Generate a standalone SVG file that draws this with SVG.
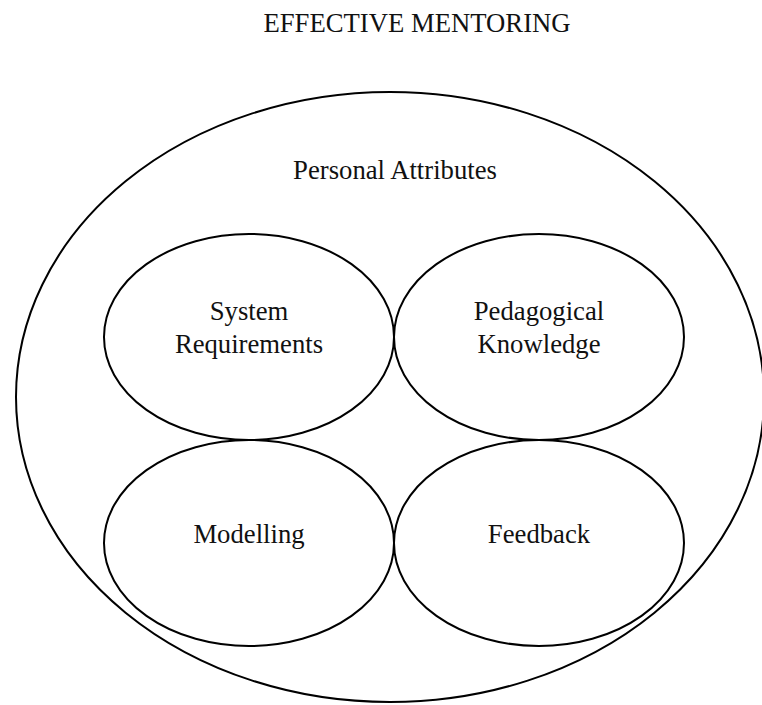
<svg xmlns="http://www.w3.org/2000/svg" width="762" height="705" viewBox="0 0 762 705">
  <style>
    .shape { fill: none; stroke: #000; stroke-width: 2; }
    .label { font-family: "Liberation Serif", "Times New Roman", serif; font-size: 26.7px; fill: #111; text-anchor: middle; }
  </style>
  <rect width="762" height="705" fill="#fff"/>
  <text class="label" x="417" y="32">EFFECTIVE MENTORING</text>

  <g id="personal-attributes">
    <ellipse class="shape" cx="390" cy="397" rx="374" ry="305"/>
    <text class="label" x="395" y="179">Personal Attributes</text>
  </g>

  <g id="system-requirements">
    <ellipse class="shape" cx="249" cy="337" rx="145" ry="103"/>
    <text class="label" x="249" y="320">System</text>
    <text class="label" x="249" y="353">Requirements</text>
  </g>

  <g id="pedagogical-knowledge">
    <ellipse class="shape" cx="539" cy="337" rx="145" ry="103"/>
    <text class="label" x="539" y="320">Pedagogical</text>
    <text class="label" x="539" y="353">Knowledge</text>
  </g>

  <g id="modelling">
    <ellipse class="shape" cx="249" cy="543" rx="145" ry="103"/>
    <text class="label" x="249" y="543">Modelling</text>
  </g>

  <g id="feedback">
    <ellipse class="shape" cx="539" cy="543" rx="145" ry="103"/>
    <text class="label" x="539" y="543">Feedback</text>
  </g>

  <g id="connectors"/>
</svg>
